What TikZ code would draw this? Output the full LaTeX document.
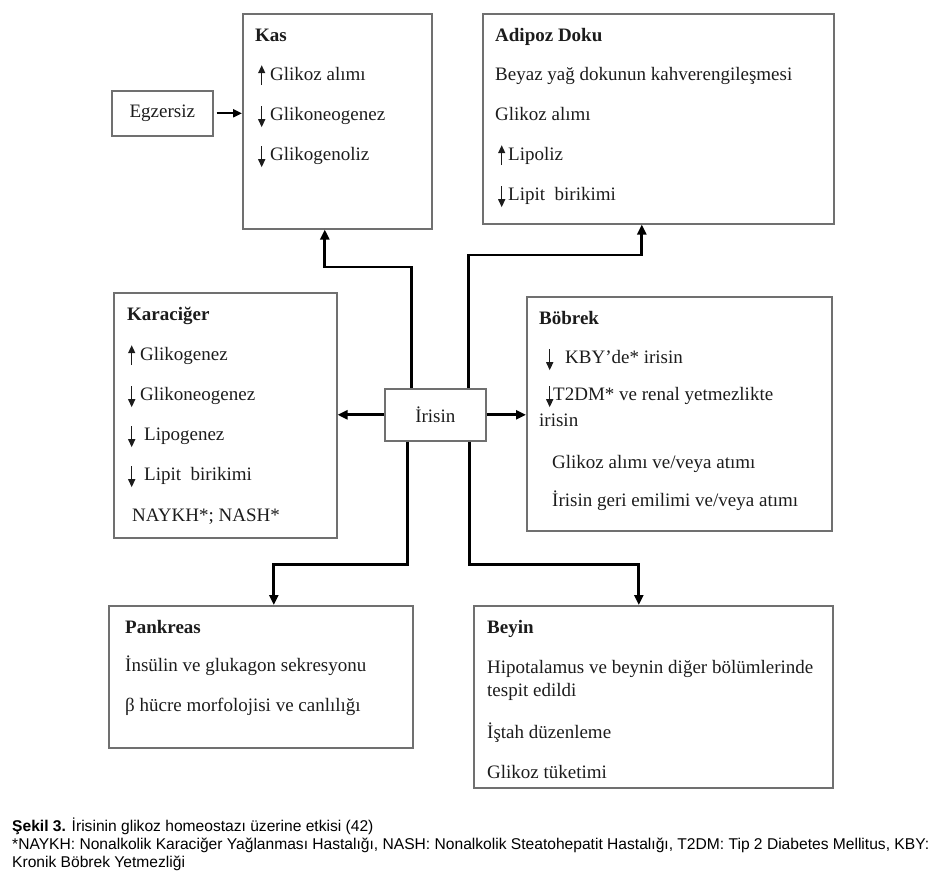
\documentclass[tikz,border=0pt]{standalone}
\usepackage{fontspec}
\setmainfont{Liberation Serif}
\newfontfamily\capfont{Liberation Sans}
\usetikzlibrary{arrows.meta}
\definecolor{boxgray}{RGB}{112,112,112}
\definecolor{inkgray}{RGB}{28,28,28}
\newcommand{\uparr}{\tikz[baseline=0pt]\draw[inkgray,line width=1.4pt,-{Triangle[length=8pt,width=7pt]}] (0,-5pt) -- (0,15pt);}
\newcommand{\dnarr}{\tikz[baseline=0pt]\draw[inkgray,line width=1.4pt,-{Triangle[length=8pt,width=7pt]}] (0,14pt) -- (0,-7pt);}

\begin{document}
\begin{tikzpicture}[x=1pt,y=-1pt,
      organ/.style={draw=boxgray,line width=1.6pt,anchor=north west,inner sep=0pt},
      body/.style={anchor=north west,inner sep=0pt,align=left,text=inkgray,
          font=\fontsize{19}{23}\selectfont},
      conn/.style={line width=2.8pt,-{Triangle[length=10pt,width=9pt]}}]
    \useasboundingbox (0,0) rectangle (942,878);
    \node[organ,minimum width=101pt,minimum height=45pt,text=inkgray,
        font=\fontsize{19}{23}\selectfont] (egz) at (111,90) {Egzersiz};
    \node[organ,minimum width=189pt,minimum height=215pt] (kas) at (242,13) {};
    \node[organ,minimum width=351pt,minimum height=210pt] (adipoz) at (482,13) {};
    \node[organ,minimum width=223pt,minimum height=245pt] (karaciger) at (113,292) {};
    \node[organ,minimum width=101pt,minimum height=52pt,text=inkgray,
        font=\fontsize{19}{23}\selectfont] (irisin) at (384,388) {İrisin};
    \node[organ,minimum width=305pt,minimum height=234pt] (bobrek) at (526,296) {};
    \node[organ,minimum width=304pt,minimum height=142pt] (pankreas) at (108,605) {};
    \node[organ,minimum width=359pt,minimum height=182pt] (beyin) at (473,605) {};

    \node[body] (kastext) at ([shift={(13,13)}]kas.north west) {\rule{0pt}{15pt}\textbf{Kas}\\[16pt]
        \hspace*{3pt}\uparr\hspace{5pt}Glikoz alımı\\[17pt]
        \hspace*{3pt}\dnarr\hspace{5pt}Glikoneogenez\\[17pt]
        \hspace*{3pt}\dnarr\hspace{5pt}Glikogenoliz};
    \node[body] (adipoztext) at ([shift={(13,13)}]adipoz.north west) {\rule{0pt}{15pt}\textbf{Adipoz Doku}\\[16pt]
        Beyaz yağ dokunun kahverengileşmesi\\[17pt]
        Glikoz alımı\\[17pt]
        \hspace*{3pt}\uparr\hspace{3pt}Lipoliz\\[17pt]
        \hspace*{3pt}\dnarr\hspace{3pt}Lipit\ \ birikimi};
    \node[body] (karacigertext) at ([shift={(14,13)}]karaciger.north west) {\rule{0pt}{15pt}\textbf{Karaciğer}\\[17pt]
        \hspace*{1pt}\uparr\hspace{5pt}Glikogenez\\[17pt]
        \hspace*{1pt}\dnarr\hspace{5pt}Glikoneogenez\\[17pt]
        \hspace*{1pt}\dnarr\hspace{9pt}Lipogenez\\[17pt]
        \hspace*{1pt}\dnarr\hspace{9pt}Lipit\ \ birikimi\\[18pt]
        \hspace*{5pt}NAYKH*; NASH*};
    \node[body] (bobrektext) at ([shift={(13,13)}]bobrek.north west) {\rule{0pt}{15pt}\textbf{Böbrek}\\[16pt]
        \hspace*{7pt}\dnarr\hspace{12pt}KBY’de* irisin\\[14pt]
        \hspace*{7pt}\dnarr\hspace{0pt}T2DM* ve renal yetmezlikte\\[3pt]
        irisin\\[19pt]
        \hspace*{13pt}Glikoz alımı ve/veya atımı\\[15pt]
        \hspace*{13pt}İrisin geri emilimi ve/veya atımı};
    \node[body] (pankreastext) at ([shift={(17,13)}]pankreas.north west) {\rule{0pt}{15pt}\textbf{Pankreas}\\[15pt]
        İnsülin ve glukagon sekresyonu\\[17pt]
        β hücre morfolojisi ve canlılığı};
    \node[body] (beyintext) at ([shift={(14,13)}]beyin.north west) {\rule{0pt}{15pt}\textbf{Beyin}\\[17pt]
        Hipotalamus ve beynin diğer bölümlerinde\\
        tespit edildi\\[19pt]
        İştah düzenleme\\[17pt]
        Glikoz tüketimi};

    \draw[line width=2pt,-{Triangle[length=9pt,width=8pt]},shorten <=3pt] (egz.east) -- (egz.east -| kas.west);
    \draw[conn] ([xshift=-23.5pt]irisin.north) -- ++(0,-121) -| ([xshift=-12.5pt]kas.south);
    \draw[conn] ([xshift=33.5pt]irisin.north) -- ++(0,-133) -| ([xshift=-16.5pt]adipoz.south);
    \draw[conn] (irisin.west) -- (irisin.west -| karaciger.east);
    \draw[conn] (irisin.east) -- (irisin.east -| bobrek.west);
    \draw[conn] ([xshift=-27.5pt]irisin.south) -- ++(0,123) -| ([xshift=13pt]pankreas.north);
    \draw[conn] ([xshift=34.5pt]irisin.south) -- ++(0,123) -| ([xshift=-14.5pt]beyin.north);

    \node[anchor=north west,inner sep=0pt,align=left,font=\capfont\fontsize{15.6}{18}\selectfont] (caption) at (12,818)
        {\rule{0pt}{13pt}\textbf{Şekil 3.} İrisinin glikoz homeostazı üzerine etkisi (42)\\
        *NAYKH: Nonalkolik Karaciğer Yağlanması Hastalığı, NASH: Nonalkolik Steatohepatit Hastalığı, T2DM: Tip 2 Diabetes Mellitus, KBY:\\
        Kronik Böbrek Yetmezliği};
\end{tikzpicture}
\end{document}
